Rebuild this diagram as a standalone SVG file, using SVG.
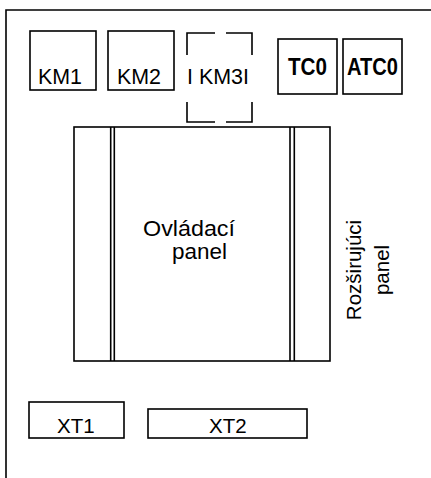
<svg xmlns="http://www.w3.org/2000/svg" width="431" height="478" viewBox="0 0 431 478">
<style>
.b{fill:#fff;stroke:#000;stroke-width:1.6}
.l{fill:none;stroke:#000;stroke-width:1.6}
.t{font-family:"Liberation Sans",Arial,sans-serif;fill:#000}
.n{font-family:"Liberation Sans Narrow","Liberation Sans",Arial,sans-serif;font-weight:bold;fill:#000}
</style>
<rect width="431" height="478" fill="#fff"/>
<g id="frame"><path class="l" d="M6,478 V10 H431" stroke-width="2"/></g>
<g id="connectors"></g>
<g id="KM1"><rect class="b" x="30" y="31" width="66" height="59"/><text class="t" x="38" y="84" font-size="22" textLength="44" lengthAdjust="spacingAndGlyphs">KM1</text></g>
<g id="KM2"><rect class="b" x="108" y="31" width="66" height="59"/><text class="t" x="117" y="84" font-size="22" textLength="44" lengthAdjust="spacingAndGlyphs">KM2</text></g>
<g id="KM3"><path class="l" d="M187,55 V33 H215 M226,33 H252 V55 M187,102 V122 H215 M226,122 H252 V102"/><text class="t" x="187" y="84" font-size="22" textLength="62" lengthAdjust="spacingAndGlyphs">I KM3I</text></g>
<g id="TC0"><rect class="b" x="278" y="39" width="59" height="55"/><text class="n" x="288" y="75" font-size="23" textLength="39" lengthAdjust="spacingAndGlyphs">TC0</text></g>
<g id="ATC0"><rect class="b" x="343" y="39" width="59" height="55"/><text class="n" x="347" y="75" font-size="23" textLength="51" lengthAdjust="spacingAndGlyphs">ATC0</text></g>
<g id="panel"><rect class="b" x="74" y="127" width="256" height="234" stroke-width="1.4"/><path class="l" stroke-width="1.4" d="M110.7,127 V361 M114.3,127 V361 M290,127 V361 M294.3,127 V361"/><text class="t" x="143" y="236" font-size="22" textLength="92" lengthAdjust="spacingAndGlyphs">Ovládací</text><text class="t" x="172" y="259" font-size="22" textLength="55" lengthAdjust="spacingAndGlyphs">panel</text></g>
<g id="rozsirujuci"><text class="t" font-size="20.5" text-anchor="middle" transform="translate(361,270) rotate(-90)">Rozširujúci</text><text class="t" font-size="20.5" text-anchor="middle" transform="translate(389,270) rotate(-90)">panel</text></g>
<g id="XT1"><rect class="b" x="29" y="402" width="95" height="36"/><text class="t" x="57" y="433" font-size="20.5">XT1</text></g>
<g id="XT2"><rect class="b" x="148" y="409" width="159" height="29"/><text class="t" x="209" y="433" font-size="20.5">XT2</text></g>
</svg>
